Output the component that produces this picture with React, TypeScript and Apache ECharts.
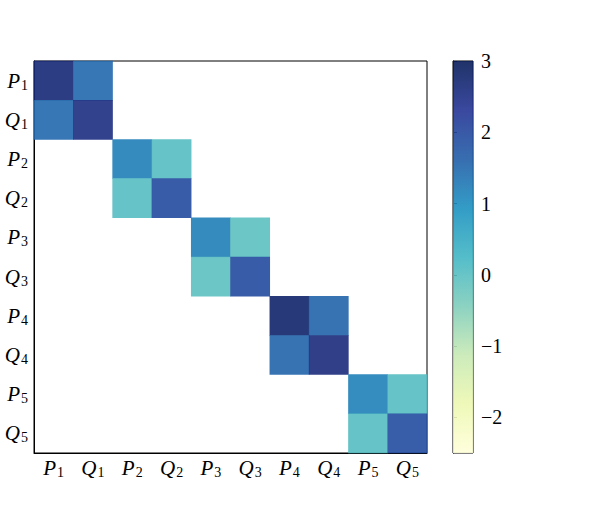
import React, { useEffect, useRef } from "react";
import * as echarts from "echarts";

const categories = ["P1", "Q1", "P2", "Q2", "P3", "Q3", "P4", "Q4", "P5", "Q5"];
// per 2x2 block: diagonal P, off-diagonal P-Q, diagonal Q
const blockPP = [2.67, 1.19, 1.2, 2.8, 1.18];
const blockPQ = [1.49, 0.03, -0.05, 1.55, 0.03];
const blockQQ = [2.53, 1.96, 1.95, 2.6, 1.9];
const cbTicks = [-2, -1, 0, 1, 2, 3];
const cbMin = -2.5;
const cbMax = 3;
const palette = ["#ffffd9", "#edf8b1", "#c7e9b4", "#7fcdbb", "#41b6c4", "#1d91c0", "#225ea8", "#253494", "#081d58"];

const FONT = "Liberation Serif";

function buildCells() {
  const cells: number[][] = [];
  for (let b = 0; b < blockPP.length; b++) {
    const i = 2 * b;
    cells.push([i, i, blockPP[b]]);
    cells.push([i + 1, i, blockPQ[b]]);
    cells.push([i, i + 1, blockPQ[b]]);
    cells.push([i + 1, i + 1, blockQQ[b]]);
  }
  return cells;
}

const labelRich = {
  i: { fontFamily: FONT, fontStyle: "italic", fontSize: 21, color: "#000", lineHeight: 24 },
  s: { fontFamily: FONT, fontSize: 14, color: "#000", lineHeight: 24, padding: [9, 0, 0, 1] },
};
const fmt = (v: string) => `{i|${v[0]}}{s|${v.slice(1)}}`;

export default function App() {
  const ref = useRef<HTMLDivElement>(null);
  useEffect(() => {
    const chart = echarts.init(ref.current!, undefined, { renderer: "svg" });
    chart.setOption({
      animation: false,
      backgroundColor: "#fff",
      grid: [
        { left: 34, top: 61, width: 393, height: 392, show: true, borderColor: "#000", borderWidth: 1, backgroundColor: "transparent" },
        { left: 453, top: 61, width: 20, height: 392, show: true, borderColor: "#000", borderWidth: 1, backgroundColor: "transparent" },
      ],
      visualMap: {
        show: false,
        min: cbMin,
        max: cbMax,
        dimension: 2,
        seriesIndex: 0,
        inRange: { color: palette },
      },
      xAxis: [
        {
          type: "category",
          gridIndex: 0,
          data: categories,
          axisLine: { lineStyle: { color: "#000", width: 1 } },
          axisTick: { alignWithLabel: true, length: 4, lineStyle: { color: "#000" } },
          axisLabel: { formatter: fmt, rich: labelRich, margin: 3, interval: 0 },
          splitLine: { show: false },
          splitArea: { show: false },
        },
        { type: "value", gridIndex: 1, min: 0, max: 1, show: false },
      ],
      yAxis: [
        {
          type: "category",
          gridIndex: 0,
          data: categories,
          inverse: true,
          axisLine: { lineStyle: { color: "#000", width: 1 } },
          axisTick: { alignWithLabel: true, length: 4, lineStyle: { color: "#000" } },
          axisLabel: { formatter: fmt, rich: labelRich, margin: 6, interval: 0 },
          splitLine: { show: false },
          splitArea: { show: false },
        },
        {
          type: "value",
          gridIndex: 1,
          min: cbMin,
          max: cbMax,
          position: "right",
          axisLine: { show: true, lineStyle: { color: "#000", width: 1 } },
          axisTick: { show: true, customValues: cbTicks, length: 4, lineStyle: { color: "#000" } },
          axisLabel: {
            customValues: cbTicks,
            fontFamily: FONT,
            fontSize: 20,
            color: "#000",
            margin: 8,
            formatter: (v: number) => (v < 0 ? "\u2212" + Math.abs(v) : String(v)),
          },
          splitLine: { show: false },
        },
      ],
      series: [
        {
          type: "heatmap",
          xAxisIndex: 0,
          yAxisIndex: 0,
          data: buildCells(),
          itemStyle: { borderWidth: 0, opacity: 0.9 },
          emphasis: { disabled: true },
        },
        {
          type: "custom",
          xAxisIndex: 1,
          yAxisIndex: 1,
          data: [[0, cbMin, 1, cbMax]],
          encode: { x: [0, 2], y: [1, 3] },
          renderItem: (_p: any, api: any) => {
            const a = api.coord([api.value(0), api.value(3)]);
            const b = api.coord([api.value(2), api.value(1)]);
            return {
              type: "rect",
              shape: { x: a[0], y: a[1], width: b[0] - a[0], height: b[1] - a[1] },
              style: {
                opacity: 0.9,
                fill: new echarts.graphic.LinearGradient(
                  0, 1, 0, 0,
                  palette.map((c, k) => ({ offset: k / (palette.length - 1), color: c }))
                ),
              },
            };
          },
        },
      ],
    });
    return () => chart.dispose();
  }, []);
  return <div ref={ref} style={{ position: "fixed", left: 0, top: 0, width: 598, height: 510 }} />;
}
